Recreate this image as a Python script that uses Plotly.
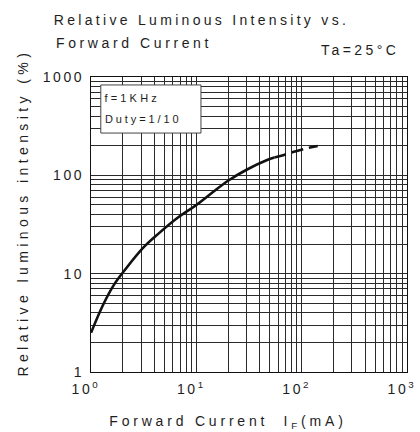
import plotly.graph_objects as go

# Data (forward current mA, relative intensity %)
solid_current = [1.0, 1.3, 1.65, 2.15, 3.2, 4.4, 6.5, 10, 14, 20, 30, 47, 55]
solid_intensity = [2.5, 4.8, 7.7, 11.3, 18.8, 25.7, 36.4, 50, 66, 88, 114, 143, 152]
dashed_current = [55, 64, 80, 90, 115, 142]
dashed_intensity = [152, 158, 171, 177, 190, 199]

x_tick_vals = [1, 10, 100, 1000]
x_tick_text = ["10<sup>0</sup>", "10<sup>1</sup>", "10<sup>2</sup>", "10<sup>3</sup>"]
y_tick_vals = [1, 10, 100, 1000]
y_tick_text = ["1", "10", "100", "1000"]
minor_vals = [m * 10 ** e for e in range(3) for m in range(2, 10)]

FONT = "Liberation Sans, Arial, sans-serif"
TXT = "#1e1e1e"
GRID = "#2a2a2a"

fig = go.Figure()
fig.add_trace(go.Scatter(x=solid_current, y=solid_intensity, mode="lines",
                         line=dict(color="#111111", width=2.6, shape="spline", smoothing=1.0),
                         showlegend=False, hoverinfo="skip"))
fig.add_trace(go.Scatter(x=dashed_current, y=dashed_intensity, mode="lines",
                         line=dict(color="#111111", width=2.6, dash="12px,6px",
                                   shape="spline", smoothing=1.0),
                         showlegend=False, hoverinfo="skip"))

axis_common = dict(type="log", showline=True, linecolor="#111111", linewidth=1, mirror=True,
                   showgrid=True, gridcolor=GRID, gridwidth=1, zeroline=False,
                   ticks="", tickfont=dict(family=FONT, size=14, color=TXT),
                   minor=dict(tickmode="array", tickvals=minor_vals, showgrid=True,
                              gridcolor=GRID, gridwidth=1, ticks=""))

fig.update_xaxes(range=[0, 3], tickmode="array", tickvals=x_tick_vals, ticktext=x_tick_text,
                 ticklabelstandoff=4, ticklabelshift=-5, ticklabeloverflow="allow",
                 **axis_common)
fig.update_yaxes(range=[0, 3], tickmode="array", tickvals=y_tick_vals, ticktext=y_tick_text,
                 ticklabelstandoff=3, **axis_common)

# white box for test conditions
fig.add_shape(type="rect", xref="paper", yref="paper", x0=0.031, x1=0.348, y0=0.810, y1=0.973,
              fillcolor="white", line=dict(color="#444444", width=1), layer="above")

def ann(text, x, y, size=14, angle=0):
    fig.add_annotation(text=text, xref="paper", yref="paper", x=x, y=y, showarrow=False,
                       xanchor="center", yanchor="middle", textangle=angle,
                       font=dict(family=FONT, size=size, color=TXT))

ann("Relative Luminous Intensity vs.", 0.349, 1.193)
ann("Forward Current", 0.135, 1.115)
ann("Ta=25°C", 0.851, 1.092)
ann("f=1KHz", 0.130, 0.929, size=11)
ann("Duty=1/10", 0.166, 0.858, size=11)
ann("Relative luminous intensity (%)", -0.214, 0.539, angle=-90)
ann("Forward Current  I<sub>F</sub>(mA)", 0.433, -0.168)

fig.update_layout(width=420, height=432, margin=dict(l=91, r=7, t=77, b=60),
                  paper_bgcolor="white", plot_bgcolor="white",
                  font=dict(family=FONT, color=TXT))

post = """
document.body.style.margin = '0';
var gd = document.getElementById('{plot_id}');
var special = {
  'Relative Luminous Intensity vs.': '3.3px',
  'Forward Current': '3.6px',
  'Relative luminous intensity (%)': '4.4px',
  'Ta=25°C': '3.4px',
  'f=1KHz': '3.2px',
  'Duty=1/10': '2.9px'
};
function sp(){
  gd.querySelectorAll('text').forEach(function(t){
    var k = t.textContent;
    var v = special[k];
    if (!v && k.indexOf('Forward Current') === 0 && k.length > 16) { v = '3.8px'; }
    t.style.letterSpacing = v || '2.6px';
  });
}
sp();
gd.on('plotly_afterplot', sp);
"""
fig.write_html("out.html", post_script=post, config={"displayModeBar": False})
